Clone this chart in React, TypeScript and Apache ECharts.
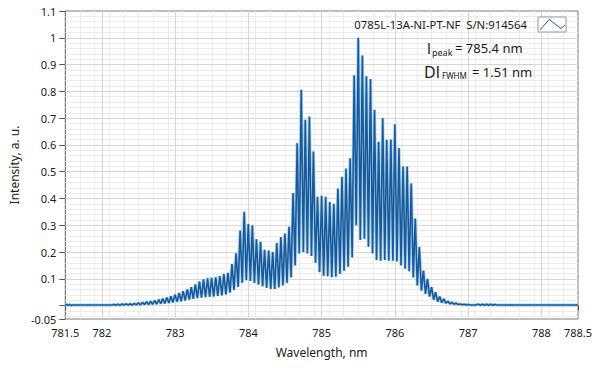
import { useEffect, useRef } from "react";
import * as echarts from "echarts";

// Spectrum samples: mode peaks and the valleys between them (nm, a.u.)
const wavelengthNm = [
  781.5, 781.52, 781.54, 781.56, 781.58, 781.6, 782.1, 782.136,
  782.164, 782.192, 782.22, 782.248, 782.275, 782.303, 782.331, 782.359,
  782.386, 782.414, 782.442, 782.47, 782.498, 782.526, 782.553, 782.581,
  782.609, 782.637, 782.664, 782.692, 782.72, 782.748, 782.776, 782.804,
  782.831, 782.859, 782.887, 782.915, 782.942, 782.97, 782.998, 783.026,
  783.054, 783.082, 783.109, 783.137, 783.165, 783.193, 783.22, 783.248,
  783.276, 783.304, 783.332, 783.36, 783.387, 783.415, 783.443, 783.471,
  783.498, 783.526, 783.554, 783.582, 783.61, 783.638, 783.665, 783.693,
  783.721, 783.749, 783.776, 783.804, 783.832, 783.86, 783.888, 783.916,
  783.943, 783.971, 783.999, 784.027, 784.054, 784.082, 784.11, 784.138,
  784.166, 784.194, 784.221, 784.249, 784.277, 784.305, 784.332, 784.36,
  784.388, 784.416, 784.444, 784.472, 784.499, 784.527, 784.555, 784.583,
  784.61, 784.638, 784.666, 784.694, 784.722, 784.75, 784.777, 784.805,
  784.833, 784.861, 784.888, 784.916, 784.944, 784.972, 785.0, 785.028,
  785.055, 785.083, 785.111, 785.139, 785.166, 785.194, 785.222, 785.25,
  785.278, 785.306, 785.333, 785.361, 785.389, 785.417, 785.444, 785.472,
  785.5, 785.528, 785.556, 785.584, 785.611, 785.639, 785.667, 785.695,
  785.722, 785.75, 785.778, 785.806, 785.834, 785.862, 785.889, 785.917,
  785.945, 785.973, 786.0, 786.028, 786.056, 786.084, 786.112, 786.14,
  786.167, 786.195, 786.223, 786.251, 786.278, 786.306, 786.334, 786.362,
  786.39, 786.418, 786.445, 786.473, 786.501, 786.529, 786.556, 786.584,
  786.612, 786.64, 786.668, 786.696, 786.723, 786.751, 786.779, 786.807,
  786.834, 786.862, 786.89, 786.918, 786.946, 786.974, 787.001, 787.029,
  787.1, 787.14, 787.168, 787.196, 787.224, 787.252, 787.28, 787.308,
  787.336, 787.364, 787.392, 788.5,
];

const intensity = [
  0.002, 0.004, 0.001, 0.004, 0.001, 0.002, 0.002, 0.002,
  0.004, 0.001, 0.005, 0.001, 0.006, 0.002, 0.006, 0.002,
  0.007, 0.002, 0.008, 0.003, 0.010, 0.003, 0.012, 0.004,
  0.014, 0.004, 0.016, 0.005, 0.019, 0.006, 0.022, 0.007,
  0.026, 0.008, 0.030, 0.010, 0.035, 0.012, 0.041, 0.014,
  0.047, 0.016, 0.054, 0.019, 0.061, 0.022, 0.069, 0.025,
  0.079, 0.028, 0.090, 0.030, 0.098, 0.032, 0.102, 0.033,
  0.104, 0.034, 0.106, 0.036, 0.110, 0.038, 0.118, 0.042,
  0.122, 0.048, 0.155, 0.058, 0.195, 0.070, 0.280, 0.085,
  0.350, 0.095, 0.305, 0.092, 0.300, 0.085, 0.248, 0.078,
  0.238, 0.072, 0.208, 0.066, 0.206, 0.062, 0.200, 0.062,
  0.234, 0.068, 0.256, 0.075, 0.269, 0.085, 0.294, 0.105,
  0.420, 0.150, 0.606, 0.195, 0.806, 0.200, 0.694, 0.195,
  0.706, 0.185, 0.575, 0.160, 0.406, 0.125, 0.410, 0.112,
  0.406, 0.110, 0.387, 0.106, 0.380, 0.108, 0.437, 0.118,
  0.481, 0.130, 0.512, 0.145, 0.550, 0.180, 0.860, 0.300,
  1.000, 0.245, 0.934, 0.250, 0.856, 0.220, 0.846, 0.195,
  0.731, 0.170, 0.612, 0.168, 0.700, 0.170, 0.619, 0.168,
  0.620, 0.168, 0.677, 0.165, 0.588, 0.150, 0.519, 0.138,
  0.519, 0.128, 0.456, 0.105, 0.325, 0.075, 0.219, 0.056,
  0.131, 0.044, 0.100, 0.034, 0.069, 0.022, 0.050, 0.015,
  0.034, 0.011, 0.025, 0.009, 0.016, 0.007, 0.012, 0.005,
  0.009, 0.004, 0.006, 0.003, 0.005, 0.002, 0.004, 0.002,
  0.002, 0.005, 0.001, 0.005, 0.001, 0.005, 0.001, 0.005,
  0.001, 0.004, 0.002, 0.002,
];

const xTickLabels = [781.5, 782, 783, 784, 785, 786, 787, 788, 788.5];
const yTickLabels = [-0.05, 0.1, 0.2, 0.3, 0.4, 0.5, 0.6, 0.7, 0.8, 0.9, 1, 1.1];
const yTickMarks = [-0.05, 0, 0.1, 0.2, 0.3, 0.4, 0.5, 0.6, 0.7, 0.8, 0.9, 1, 1.1];
const legendName = "0785L-13A-NI-PT-NF  S/N:914564";
const peakText = "= 785.4 nm";
const fwhmText = "= 1.51 nm";

const FONT = "Noto Sans";

function gridLines() {
  const out: any[] = [];
  const minor = { color: "#ececec", width: 1, type: "solid" };
  const major = { color: "#d6d6d6", width: 1, type: "solid" };
  for (let i = 1; i < 35; i++) {
    const v = Math.round((781.5 + i * 0.2) * 10) / 10;
    const isMajor = Math.abs(v - Math.round(v)) < 1e-6;
    if (!isMajor) out.push({ xAxis: v, lineStyle: minor });
  }
  for (let i = -2; i <= 54; i++) {
    const v = Math.round(i * 0.02 * 1000) / 1000;
    const isMajor = i % 5 === 0;
    if (!isMajor) out.push({ yAxis: v, lineStyle: minor });
  }
  for (let v = 782; v <= 788; v++) out.push({ xAxis: v, lineStyle: major });
  for (let i = 0; i <= 10; i++) out.push({ yAxis: i / 10, lineStyle: major });
  return out;
}

export default function App() {
  const ref = useRef<HTMLDivElement>(null);
  useEffect(() => {
    if (!ref.current) return;
    const chart = echarts.init(ref.current, undefined, { renderer: "svg" });
    const data = wavelengthNm.map((w, i) => [w, intensity[i]]);
    const txt = (x: number, y: number, text: string, size: number, extra: any = {}) => ({
      type: "text",
      x,
      y,
      z: 20,
      style: {
        text,
        fontSize: size,
        fontFamily: FONT,
        fill: "#1a1a1a",
        textVerticalAlign: "middle",
        ...extra,
      },
    });
    chart.setOption({
      animation: false,
      backgroundColor: "#ffffff",
      textStyle: { fontFamily: FONT },
      grid: {
        left: 62.6,
        right: 21,
        top: 11,
        bottom: 51,
        show: true,
        borderColor: "#7a7a7a",
        borderWidth: 1,
        backgroundColor: "transparent",
        z: 0,
      },
      xAxis: {
        type: "value",
        min: 781.5,
        max: 788.5,
        name: "Wavelength, nm",
        nameLocation: "middle",
        nameGap: 27,
        nameTextStyle: { fontSize: 12, color: "#222", fontFamily: FONT },
        axisLine: { show: true, lineStyle: { color: "#7a7a7a" } },
        axisTick: { show: true, length: 5, customValues: xTickLabels, lineStyle: { color: "#555" } },
        axisLabel: {
          customValues: xTickLabels,
          margin: 8,
          fontSize: 11,
          color: "#1a1a1a",
          fontFamily: FONT,
          formatter: (v: number) => String(v),
        },
        splitLine: { show: false },
      },
      yAxis: {
        type: "value",
        min: -0.05,
        max: 1.1,
        name: "Intensity, a. u.",
        nameLocation: "middle",
        nameGap: 39,
        nameTextStyle: { fontSize: 12, color: "#222", fontFamily: FONT },
        axisLine: { show: true, lineStyle: { color: "#7a7a7a" } },
        axisTick: { show: true, length: 6, customValues: yTickMarks, lineStyle: { color: "#555" } },
        axisLabel: {
          customValues: yTickLabels,
          margin: 9,
          fontSize: 11,
          color: "#1a1a1a",
          fontFamily: FONT,
          formatter: (v: number) => String(v),
        },
        splitLine: { show: false },
      },
      series: [
        {
          type: "line",
          data: [],
          z: 1,
          silent: true,
          markLine: {
            z: 1,
            silent: true,
            symbol: ["none", "none"],
            label: { show: false },
            emphasis: { disabled: true },
            data: gridLines(),
          },
        },
        {
          type: "line",
          data,
          z: 4,
          showSymbol: false,
          symbol: "none",
          silent: true,
          lineStyle: { color: "#a9d0ee", width: 3.2 },
        },
        {
          type: "line",
          data,
          z: 5,
          showSymbol: false,
          symbol: "none",
          silent: true,
          lineStyle: { color: "#185a9a", width: 1.6 },
        },
      ],
      graphic: [
        txt(527, 24, legendName, 11.3, { textAlign: "right" }),
        {
          type: "rect",
          z: 20,
          shape: { x: 538, y: 17, width: 28, height: 15 },
          style: { fill: "#ffffff", stroke: "#9a9a9a", lineWidth: 1 },
        },
        {
          type: "polyline",
          z: 21,
          shape: { points: [[540, 30], [549, 19.5], [561, 28.5], [565, 25]] },
          style: { stroke: "#1b5d9c", lineWidth: 1, fill: "none" },
        },
        txt(427, 48, "l", 15),
        txt(432, 52, "peak", 9),
        txt(455, 48, peakText, 13),
        txt(424, 72, "Dl", 16),
        txt(442, 75, "FWHM", 8),
        txt(472, 72, fwhmText, 13),
      ],
    });
    return () => chart.dispose();
  }, []);
  return (
    <div
      ref={ref}
      style={{ position: "fixed", left: 0, top: 0, width: 599, height: 370, background: "#fff" }}
    />
  );
}
